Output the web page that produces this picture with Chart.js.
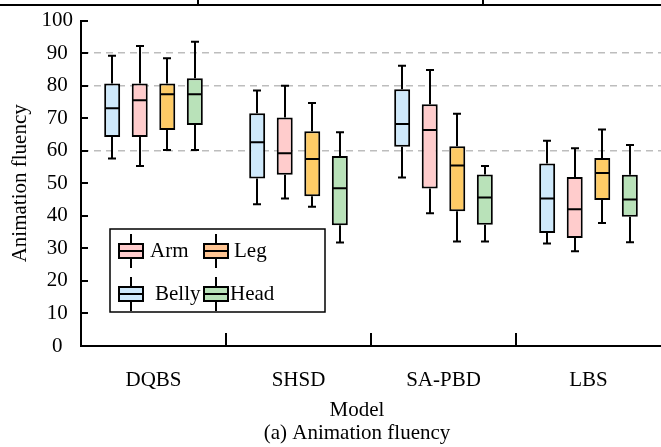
<!DOCTYPE html>
<html>
<head>
<meta charset="utf-8">
<script src="https://cdn.jsdelivr.net/npm/chart.js@4.4.1/dist/chart.umd.min.js"></script>
<style>
  html, body { margin: 0; padding: 0; background: #fff; overflow: hidden; }
  canvas { display: block; }
</style>
</head>
<body>
<canvas id="boxChart" width="661" height="447"></canvas>
<script>
// categories on the x axis
const models = ["DQBS", "SHSD", "SA-PBD", "LBS"]

// one entry per model: [min, q1, median, q3, max]
const bellyStats = [[57.6, 64.2, 73.1, 80.7, 89.2], [43.6, 51.5, 62.6, 71.5, 78.5], [51.8, 61.2, 68.2, 78.9, 86.1], [31.5, 34.7, 45.3, 56.1, 63.1]]
const armStats = [[55.3, 64.2, 75.5, 80.7, 92.2], [45.3, 52.6, 59.2, 70.2, 80.0], [40.8, 48.4, 66.4, 74.3, 84.8], [29.1, 33.2, 42.0, 51.9, 60.8]]
const legStats = [[60.2, 66.4, 77.4, 80.7, 88.4], [42.8, 46.0, 57.5, 66.0, 74.7], [32.1, 41.4, 55.5, 61.4, 71.4], [37.8, 44.9, 53.2, 57.8, 66.5]]
const headStats = [[60.2, 67.9, 77.4, 82.3, 93.5], [31.8, 37.1, 48.5, 58.4, 65.7], [32.1, 37.3, 45.6, 52.7, 55.3], [31.9, 39.7, 45.0, 52.6, 61.8]]

const yTicks = [0, 10, 20, 30, 40, 50, 60, 70, 80, 90, 100]
const dashedAt = [60, 80, 90]

const FONT = "'Liberation Serif', 'Times New Roman', serif"
Chart.defaults.font.family = FONT
Chart.defaults.font.size = 21
Chart.defaults.color = "#000"

function boxSet(label, stats, color) {
    return {
        label: label,
        stats: stats,
        data: stats.map(s => [s[1], s[3]]),
        backgroundColor: color,
        borderColor: "#000",
        borderWidth: 2,
        borderSkipped: false
    }
}

// whiskers, caps and medians on top of the floating bars
const boxPlugin = {
    id: "boxes",
    afterDatasetsDraw(chart) {
        const ctx = chart.ctx
        const y = chart.scales.y
        ctx.save()
        ctx.strokeStyle = "#000"
        ctx.lineWidth = 2
        chart.data.datasets.forEach((ds, i) => {
            chart.getDatasetMeta(i).data.forEach((bar, j) => {
                const s = ds.stats[j]
                const x = Math.round(bar.x)
                const hw = bar.width / 2
                const cap = 4
                ctx.beginPath()
                ctx.moveTo(x, y.getPixelForValue(s[3]))
                ctx.lineTo(x, y.getPixelForValue(s[4]))
                ctx.moveTo(x - cap, y.getPixelForValue(s[4]))
                ctx.lineTo(x + cap, y.getPixelForValue(s[4]))
                ctx.moveTo(x, y.getPixelForValue(s[1]))
                ctx.lineTo(x, y.getPixelForValue(s[0]))
                ctx.moveTo(x - cap, y.getPixelForValue(s[0]))
                ctx.lineTo(x + cap, y.getPixelForValue(s[0]))
                ctx.moveTo(bar.x - hw + 1, y.getPixelForValue(s[2]))
                ctx.lineTo(bar.x + hw - 1, y.getPixelForValue(s[2]))
                ctx.stroke()
            })
        })
        ctx.restore()
    }
}

function legendIcon(ctx, cx, cy, color) {
    ctx.fillStyle = color
    ctx.fillRect(cx - 12, cy - 7, 24, 14)
    ctx.beginPath()
    ctx.moveTo(cx, cy - 17); ctx.lineTo(cx, cy - 7)
    ctx.moveTo(cx, cy + 7); ctx.lineTo(cx, cy + 17)
    ctx.moveTo(cx - 12, cy); ctx.lineTo(cx + 12, cy)
    ctx.rect(cx - 12, cy - 7, 24, 14)
    ctx.stroke()
}

// inward ticks, legend, bottom titles and the table rule at the top
const decorPlugin = {
    id: "decor",
    afterDraw(chart) {
        const ctx = chart.ctx
        const {x, y} = chart.scales
        const area = chart.chartArea
        ctx.save()
        ctx.strokeStyle = "#000"
        ctx.lineWidth = 2
        ctx.beginPath()
        yTicks.forEach(v => {
            const py = Math.round(y.getPixelForValue(v))
            ctx.moveTo(area.left, py)
            ctx.lineTo(area.left + 7, py)
        })
        for (let i = 1; i < models.length; i++) {
            const px = Math.round((x.getPixelForValue(i - 1) + x.getPixelForValue(i)) / 2)
            ctx.moveTo(px, area.bottom)
            ctx.lineTo(px, area.bottom - 13)
        }
        // rule of the table above the figure
        ctx.moveTo(0, 5); ctx.lineTo(661, 5)
        ctx.moveTo(198, 0); ctx.lineTo(198, 5)
        ctx.moveTo(483, 0); ctx.lineTo(483, 5)
        ctx.stroke()

        // legend
        ctx.lineWidth = 1.5
        ctx.strokeRect(110, 229, 215, 83)
        ctx.lineWidth = 2
        legendIcon(ctx, 131, 251, "#ffcccc")
        legendIcon(ctx, 216, 251, "#ffc593")
        legendIcon(ctx, 131, 294, "#cfe9fb")
        legendIcon(ctx, 216, 294, "#b9e2b9")
        ctx.fillStyle = "#000"
        ctx.font = "21px " + FONT
        ctx.textBaseline = "middle"
        ctx.textAlign = "left"
        ctx.fillText("Arm", 150, 251)
        ctx.fillText("Leg", 234, 251)
        ctx.fillText("Belly", 155, 294)
        ctx.fillText("Head", 230, 294)

        ctx.textAlign = "center"
        ctx.fillText("Model", 357, 410)
        ctx.fillText("(a) Animation fluency", 357, 433)
        ctx.restore()
    }
}

new Chart(document.getElementById("boxChart"), {
    type: "bar",
    data: {
        labels: models,
        datasets: [
            boxSet("Belly", bellyStats, "#cfe9fb"),
            boxSet("Arm", armStats, "#ffcccc"),
            boxSet("Leg", legStats, "#fecb66"),
            boxSet("Head", headStats, "#b9e2b9")
        ]
    },
    options: {
        responsive: false,
        animation: false,
        layout: { padding: { top: 19, right: 0, left: 0, bottom: 0 } },
        categoryPercentage: 0.76,
        barPercentage: 0.58,
        plugins: {
            legend: { display: false },
            tooltip: { enabled: false }
        },
        scales: {
            x: {
                grid: { display: false },
                border: { color: "#000", width: 2 },
                ticks: { padding: 14 },
                afterFit(scale) { scale.height = 101 }
            },
            y: {
                min: 0,
                max: 100,
                ticks: { stepSize: 10, padding: 8, crossAlign: "center" },
                grid: {
                    drawTicks: false,
                    color: c => dashedAt.includes(c.tick.value) ? "#bdbdbd" : "rgba(0,0,0,0)",
                    lineWidth: 1.5
                },
                // in v4 the dash of the grid lines is read from border.dash
                border: { color: "#000", width: 2, dash: [7, 5] },
                title: { display: true, text: "Animation fluency", padding: { top: 8 } },
                afterFit(scale) { scale.width = 81 }
            }
        }
    },
    plugins: [boxPlugin, decorPlugin]
})
</script>
</body>
</html>
